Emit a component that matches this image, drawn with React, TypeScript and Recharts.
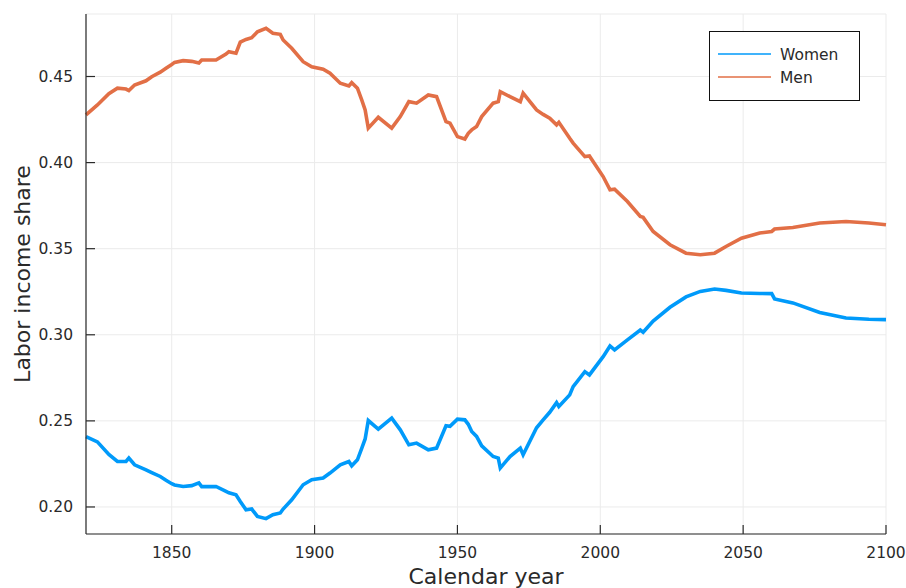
import {
  CartesianGrid,
  Legend,
  Line,
  LineChart,
  XAxis,
  YAxis,
} from "recharts";

// calendar years sampled along both curves
const years = [
  1820, 1824, 1828, 1831, 1834, 1835, 1837, 1841, 1843, 1846,
  1848, 1850, 1851, 1854, 1857, 1859.5, 1860.5, 1865.5, 1869, 1870,
  1872.5, 1874, 1876, 1878, 1880, 1883, 1885.4, 1888, 1889, 1892,
  1896, 1899, 1903, 1905.4, 1909, 1912, 1913, 1915, 1916.5, 1917.7,
  1918.8, 1922.3, 1927, 1930, 1933, 1935.7, 1939.8, 1942.7, 1946, 1947.4,
  1950, 1952.6, 1953.8, 1955, 1956.7, 1958.5, 1962.5, 1964.3, 1965, 1968.4,
  1972, 1973, 1977.7, 1980, 1982.3, 1984.7, 1985.5, 1989.3, 1990.5, 1994.6,
  1996.2, 2001, 2003.4, 2005, 2009.5, 2014, 2015, 2018.5, 2024.4, 2030,
  2035, 2040, 2044, 2049.4, 2055.8, 2060, 2061, 2067.4, 2076.8, 2086,
  2094, 2100,
];

const womenShare = [
  0.2409, 0.2378, 0.2305, 0.2264, 0.2264, 0.2284, 0.2245, 0.2216, 0.22, 0.2177,
  0.2155, 0.2135, 0.2128, 0.2119, 0.2124, 0.214, 0.2118, 0.2119, 0.209, 0.2082,
  0.2071, 0.2032, 0.1984, 0.1988, 0.1945, 0.1932, 0.1955, 0.1965, 0.1988, 0.2042,
  0.2129, 0.2158, 0.2168, 0.2197, 0.2245, 0.2264, 0.2239, 0.2274, 0.234, 0.2395,
  0.2502, 0.2452, 0.2516, 0.2448, 0.2361, 0.2371, 0.2332, 0.2342, 0.2472, 0.2468,
  0.251, 0.2506, 0.248, 0.2438, 0.241, 0.2355, 0.2293, 0.2284, 0.2226, 0.2293,
  0.2342, 0.2303, 0.246, 0.2506, 0.255, 0.2606, 0.2583, 0.2651, 0.2699, 0.2786,
  0.2767, 0.2873, 0.2935, 0.2912, 0.297, 0.3028, 0.3015, 0.308, 0.316, 0.322,
  0.3252, 0.3266, 0.3258, 0.3243, 0.324, 0.3239, 0.3208, 0.3185, 0.313, 0.3097,
  0.309, 0.3088,
];

const menShare = [
  0.4277, 0.4335, 0.44, 0.4432, 0.4427, 0.4418, 0.4451, 0.4475, 0.4499, 0.4525,
  0.4548, 0.457, 0.4582, 0.4592, 0.4588, 0.4578, 0.4596, 0.4596, 0.463, 0.4644,
  0.4635, 0.47, 0.4715, 0.4725, 0.476, 0.478, 0.4751, 0.4745, 0.4712, 0.4664,
  0.4586, 0.4557, 0.4542, 0.4519, 0.4461, 0.4445, 0.4464, 0.4432, 0.4364, 0.4306,
  0.42, 0.4263, 0.42, 0.4267, 0.4354, 0.4345, 0.4393, 0.4383, 0.4238, 0.4229,
  0.4151, 0.4137, 0.417, 0.419, 0.4209, 0.4267, 0.4345, 0.4354, 0.4412, 0.4383,
  0.4354, 0.4403, 0.4306, 0.428, 0.4258, 0.4219, 0.4234, 0.4141, 0.4113, 0.4035,
  0.4039, 0.3919, 0.3842, 0.3846, 0.3774, 0.3687, 0.3682, 0.36, 0.3523, 0.3474,
  0.3465, 0.3474, 0.3513, 0.3561, 0.3591, 0.36, 0.3614, 0.3623, 0.3649, 0.3658,
  0.3649, 0.3639,
];

const seriesNames = ["Women", "Men"];
const xTicks = [1850, 1900, 1950, 2000, 2050, 2100];
const yTicks = [0.2, 0.25, 0.3, 0.35, 0.4, 0.45];

const data = years.map((year, i) => ({
  year,
  women: womenShare[i],
  men: menShare[i],
}));

const FONT = "DejaVu Sans";
const INK = "#2a2a2a";

function XTick({ x, y, payload }: { x?: number; y?: number; payload?: { value: number } }) {
  return (
    <g>
      <line x1={x} y1={y} x2={x} y2={(y ?? 0) - 9} stroke={INK} strokeWidth={1.2} />
      <text x={x} y={(y ?? 0) + 24} textAnchor="middle" fill={INK} fontSize={15.5} fontFamily={FONT}>
        {payload?.value}
      </text>
    </g>
  );
}

function YTick({ x, y, payload }: { x?: number; y?: number; payload?: { value: number } }) {
  return (
    <g>
      <line x1={x} y1={y} x2={(x ?? 0) + 9} y2={y} stroke={INK} strokeWidth={1.2} />
      <text x={(x ?? 0) - 13} y={(y ?? 0) + 5.5} textAnchor="end" fill={INK} fontSize={15.5} fontFamily={FONT}>
        {payload?.value.toFixed(2)}
      </text>
    </g>
  );
}

function LegendBox({ payload }: { payload?: { value: string; color: string }[] }) {
  // keep the plotting order (recharts sorts by name otherwise)
  const items = [...(payload ?? [])].sort(
    (a, b) => seriesNames.indexOf(a.value) - seriesNames.indexOf(b.value)
  );
  return (
    <svg width={151} height={70}>
      <rect x={0.5} y={0.5} width={150} height={69} fill="#fff" stroke="#111" strokeWidth={1} />
      {items.map((p, i) => (
        <g key={p.value}>
          <line x1={9} x2={62} y1={23 + i * 23} y2={23 + i * 23} stroke={p.color} strokeWidth={1.5} />
          <text x={71} y={29 + i * 23} fill={INK} fontSize={15.5} fontFamily={FONT}>
            {p.value}
          </text>
        </g>
      ))}
    </svg>
  );
}

export default function App() {
  return (
    <div style={{ position: "absolute", left: 0, top: 0, background: "#fff" }}>
      <LineChart
        width={906}
        height={588}
        data={data}
        margin={{ top: 14, right: 20, left: 0, bottom: 0 }}
      >
        <CartesianGrid stroke="#ebebeb" strokeWidth={1} />
        <XAxis
          dataKey="year"
          type="number"
          domain={[1820, 2100]}
          ticks={xTicks}
          height={54}
          tickSize={0}
          tickMargin={0}
          tickLine={false}
          tick={<XTick />}
          axisLine={{ stroke: INK, strokeWidth: 1.2 }}
          label={{
            content: () => (
              <text x={486} y={584} textAnchor="middle" fill={INK} fontSize={22} fontFamily={FONT}>
                Calendar year
              </text>
            ),
          }}
        />
        <YAxis
          type="number"
          domain={[0.1843, 0.4863]}
          ticks={yTicks}
          width={86}
          tickSize={0}
          tickMargin={0}
          tickLine={false}
          tick={<YTick />}
          axisLine={{ stroke: INK, strokeWidth: 1.2 }}
          label={{
            content: () => (
              <text
                transform="translate(30,274) rotate(-90)"
                textAnchor="middle"
                fill={INK}
                fontSize={22}
                fontFamily={FONT}
              >
                Labor income share
              </text>
            ),
          }}
        />
        <Legend
          layout="vertical"
          align="center"
          verticalAlign="middle"
          content={<LegendBox />}
          wrapperStyle={{ left: 709, top: 31, width: 151, height: 70 }}
        />
        <Line
          name="Women"
          dataKey="women"
          type="linear"
          stroke="#009afa"
          strokeWidth={3.6}
          dot={false}
          isAnimationActive={false}
        />
        <Line
          name="Men"
          dataKey="men"
          type="linear"
          stroke="#e26f46"
          strokeWidth={3.6}
          dot={false}
          isAnimationActive={false}
        />
      </LineChart>
    </div>
  );
}
